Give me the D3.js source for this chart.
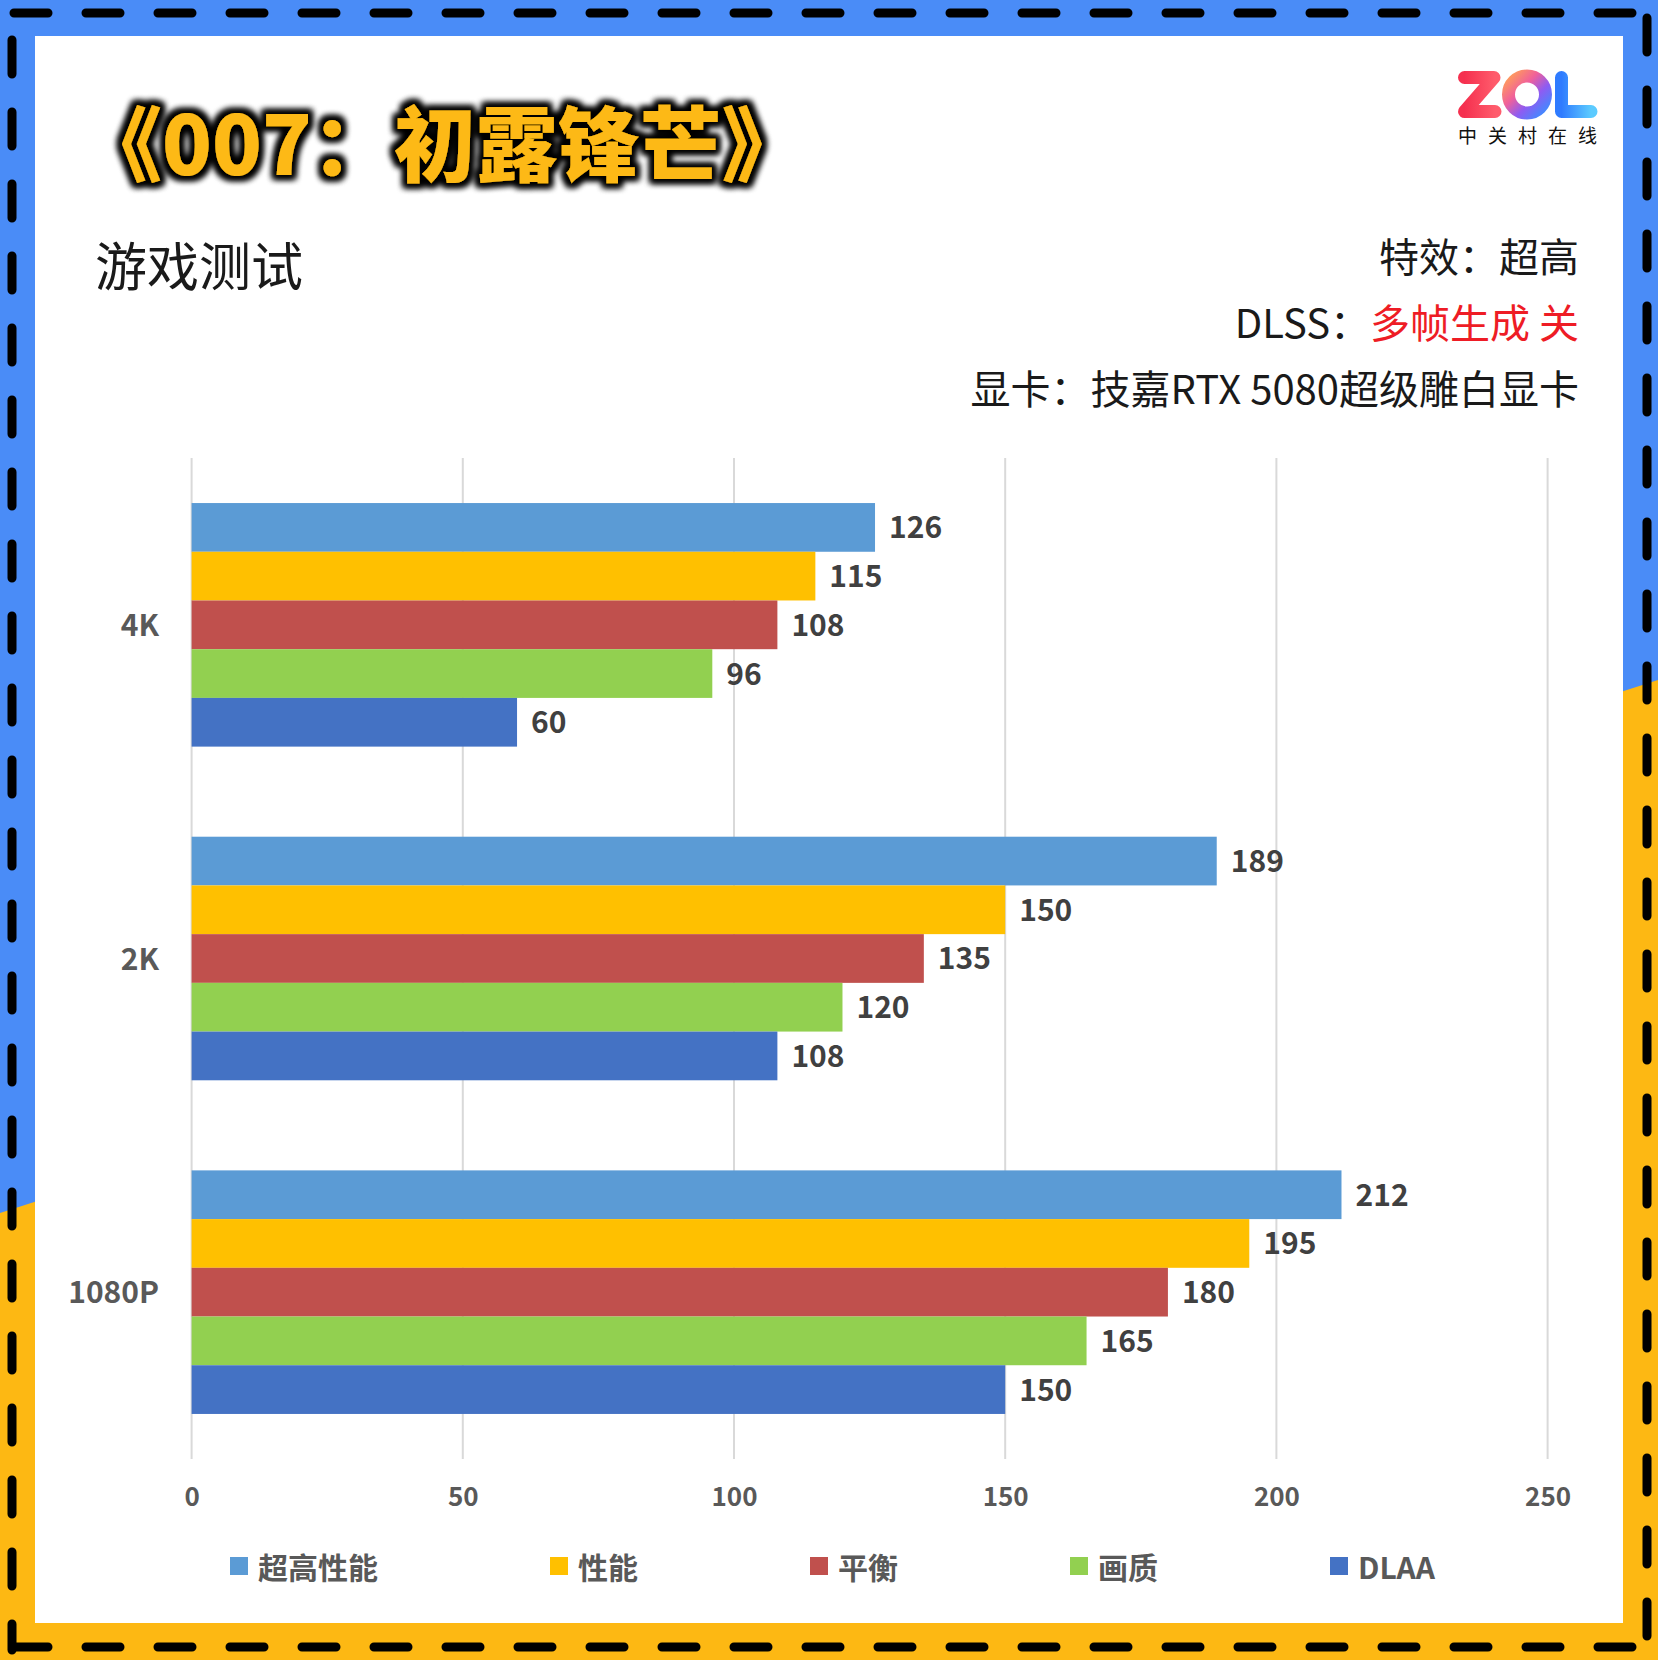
<!DOCTYPE html>
<html>
<head>
<meta charset="utf-8">
<script src="https://cdn.jsdelivr.net/npm/d3@7"></script>
<style>
  body { margin: 0; background: #fff; }
  svg { display: block; font-family: "Noto Sans CJK SC", "Noto Sans", sans-serif; }
</style>
</head>
<body>
<div id="chart"></div>
<script>
// categories and series
let categories = ['4K', '2K', '1080P']
let seriesNames = ['超高性能', '性能', '平衡', '画质', 'DLAA']
let colors = ['#5B9BD5', '#FFC000', '#C0504D', '#92D050', '#4472C4']
// fps values, one array per resolution, same order as seriesNames
let fps4K = [126, 115, 108, 96, 60]
let fps2K = [189, 150, 135, 120, 108]
let fps1080P = [212, 195, 180, 165, 150]
let xTicks = [0, 50, 100, 150, 200, 250]

let titleText = '《007：初露锋芒》'
let subTitle = '游戏测试'
let infoLines = [
    [{t: '特效：超高', c: '#1a1a1a'}],
    [{t: 'DLSS：', c: '#1a1a1a'}, {t: '多帧生成 关', c: '#EE1C25'}],
    [{t: '显卡：技嘉RTX 5080超级雕白显卡', c: '#1a1a1a'}]
]

let W = 1658, H = 1660
let svg = d3.select('#chart').append('svg').attr('width', W).attr('height', H)
let defs = svg.append('defs')

// ---- frame: blue / yellow background split diagonally, white panel, dashed border
svg.append('rect').attr('width', W).attr('height', H).attr('fill', '#FDB813')
svg.append('path').attr('d', `M0,0 L${W},0 L${W},680 L0,1213 Z`).attr('fill', '#4A8CF7')
svg.append('rect').attr('x', 35).attr('y', 36).attr('width', 1588).attr('height', 1587).attr('fill', '#fff')

let dashLines = [[14, 13, 1632, 13], [12, 40, 12, 1650], [1647, 18, 1647, 1650], [14, 1647, 1645, 1647]]
svg.append('g').selectAll('line').data(dashLines).enter().append('line')
    .attr('x1', d => d[0]).attr('y1', d => d[1]).attr('x2', d => d[2]).attr('y2', d => d[3])
    .attr('stroke', '#000').attr('stroke-width', 9)
    .attr('stroke-linecap', 'round').attr('stroke-dasharray', '34 38')

// ---- title with dark glow
let glow = defs.append('filter').attr('id', 'glow')
    .attr('x', '-10%').attr('y', '-40%').attr('width', '120%').attr('height', '180%')
glow.append('feMorphology').attr('in', 'SourceAlpha').attr('operator', 'dilate').attr('radius', 4).attr('result', 'd')
glow.append('feGaussianBlur').attr('in', 'd').attr('stdDeviation', 3).attr('result', 'b')
glow.append('feFlood').attr('flood-color', '#000')
glow.append('feComposite').attr('in2', 'b').attr('operator', 'in').attr('result', 's')
let gm = glow.append('feMerge')
gm.append('feMergeNode').attr('in', 's')
gm.append('feMergeNode').attr('in', 's')
gm.append('feMergeNode').attr('in', 'SourceGraphic')

svg.append('text').text(titleText)
    .attr('x', 80).attr('y', 139).attr('dominant-baseline', 'central')
    .attr('font-size', 82).attr('font-weight', 900).attr('fill', '#FDB913')
    .attr('filter', 'url(#glow)')

svg.append('text').text(subTitle)
    .attr('x', 95).attr('y', 263).attr('dominant-baseline', 'central')
    .attr('font-size', 52).attr('fill', '#1a1a1a')

let info = svg.append('g').selectAll('text').data(infoLines).enter().append('text')
    .attr('x', 1579).attr('y', (d, i) => 255 + i * 66)
    .attr('text-anchor', 'end').attr('dominant-baseline', 'central')
    .attr('font-size', 40)
info.selectAll('tspan').data(d => d).enter().append('tspan')
    .text(d => d.t).attr('fill', d => d.c)

// ---- ZOL logo
let gz = defs.append('linearGradient').attr('id', 'gz').attr('x1', 0).attr('x2', 1)
gz.append('stop').attr('offset', 0).attr('stop-color', '#F5304F')
gz.append('stop').attr('offset', 1).attr('stop-color', '#FF5C6C')
let go = defs.append('linearGradient').attr('id', 'go').attr('x1', 0).attr('y1', 0).attr('x2', 1).attr('y2', 1)
go.append('stop').attr('offset', 0).attr('stop-color', '#FF9C5B')
go.append('stop').attr('offset', 0.35).attr('stop-color', '#F0609A')
go.append('stop').attr('offset', 0.65).attr('stop-color', '#8E5CF2')
go.append('stop').attr('offset', 1).attr('stop-color', '#3F8BFF')
let gl = defs.append('linearGradient').attr('id', 'gl').attr('x1', 0).attr('x2', 1)
gl.append('stop').attr('offset', 0).attr('stop-color', '#2F7BFF')
gl.append('stop').attr('offset', 1).attr('stop-color', '#5CCBFF')

let logo = svg.append('g')
logo.append('path').attr('d', 'M1464.5,77.5 L1494,77.5 L1464.5,111.5 L1495,111.5')
    .attr('fill', 'none').attr('stroke', 'url(#gz)').attr('stroke-width', 13)
    .attr('stroke-linejoin', 'round').attr('stroke-linecap', 'round')
logo.append('circle').attr('cx', 1527).attr('cy', 94.5).attr('r', 18.5)
    .attr('fill', 'none').attr('stroke', 'url(#go)').attr('stroke-width', 13)
logo.append('path').attr('d', 'M1561.5,77.5 L1561.5,111.5 L1591,111.5')
    .attr('fill', 'none').attr('stroke', 'url(#gl)').attr('stroke-width', 13)
    .attr('stroke-linejoin', 'round').attr('stroke-linecap', 'round')
logo.append('text').text('中关村在线')
    .attr('x', 1458).attr('y', 134).attr('dominant-baseline', 'central')
    .attr('font-size', 19).attr('letter-spacing', 11).attr('fill', '#111')

// ---- chart
let values = [fps4K, fps2K, fps1080P]
let x = d3.scaleLinear().domain([0, 250]).range([191.6, 1547.6])
let y = d3.scaleBand().domain(categories).range([458, 1459]).paddingInner(0.27).paddingOuter(0.135)
let ySub = d3.scaleBand().domain(seriesNames).range([0, y.bandwidth()])

let grid = svg.append('g')
grid.selectAll('line').data(xTicks).enter().append('line')
    .attr('x1', d => x(d)).attr('x2', d => x(d))
    .attr('y1', 458).attr('y2', 1459)
    .attr('stroke', '#d9d9d9').attr('stroke-width', 2)

let xAxis = svg.append('g').attr('transform', 'translate(0,1494)')
    .call(d3.axisBottom(x).tickValues(xTicks).tickSize(0).tickPadding(0))
xAxis.select('.domain').remove()
xAxis.selectAll('text')
    .attr('font-size', 26).attr('font-weight', 700).attr('fill', '#595959')
    .attr('font-family', '"Noto Sans CJK SC", sans-serif')
    .attr('dy', null).attr('dominant-baseline', 'central')

let yAxis = svg.append('g').attr('transform', 'translate(159,-2)')
    .call(d3.axisLeft(y).tickSize(0).tickPadding(0))
yAxis.select('.domain').remove()
yAxis.selectAll('text')
    .attr('font-size', 30).attr('font-weight', 700).attr('fill', '#595959')
    .attr('font-family', '"Noto Sans CJK SC", sans-serif')
    .attr('dy', null).attr('dominant-baseline', 'central')

let groups = svg.append('g').selectAll('g').data(categories).enter().append('g')
    .attr('transform', d => `translate(0,${y(d)})`)

groups.selectAll('rect').data((d, i) => values[i].map((v, j) => ({v: v, s: seriesNames[j], c: colors[j]})))
    .enter().append('rect')
    .attr('x', x(0)).attr('y', d => ySub(d.s))
    .attr('width', d => x(d.v) - x(0)).attr('height', ySub.bandwidth())
    .attr('fill', d => d.c)

groups.selectAll('text').data((d, i) => values[i].map((v, j) => ({v: v, s: seriesNames[j]})))
    .enter().append('text')
    .text(d => d.v)
    .attr('x', d => x(d.v) + 14).attr('y', d => ySub(d.s) + ySub.bandwidth() / 2 - 2)
    .attr('dominant-baseline', 'central')
    .attr('font-size', 30).attr('font-weight', 700).attr('fill', '#404040')

// ---- legend, items flow left to right
let legend = svg.append('g').attr('transform', 'translate(0,1566)')
let lx = 230
seriesNames.forEach((name, i) => {
    let item = legend.append('g').attr('transform', `translate(${lx},0)`)
    item.append('rect').attr('x', 0).attr('y', -9).attr('width', 18).attr('height', 18).attr('fill', colors[i])
    let t = item.append('text').text(name).attr('x', 28).attr('dominant-baseline', 'central')
        .attr('font-size', 30).attr('font-weight', 700).attr('fill', '#595959')
    lx += 28 + t.node().getComputedTextLength() + 172
})
</script>
</body>
</html>
